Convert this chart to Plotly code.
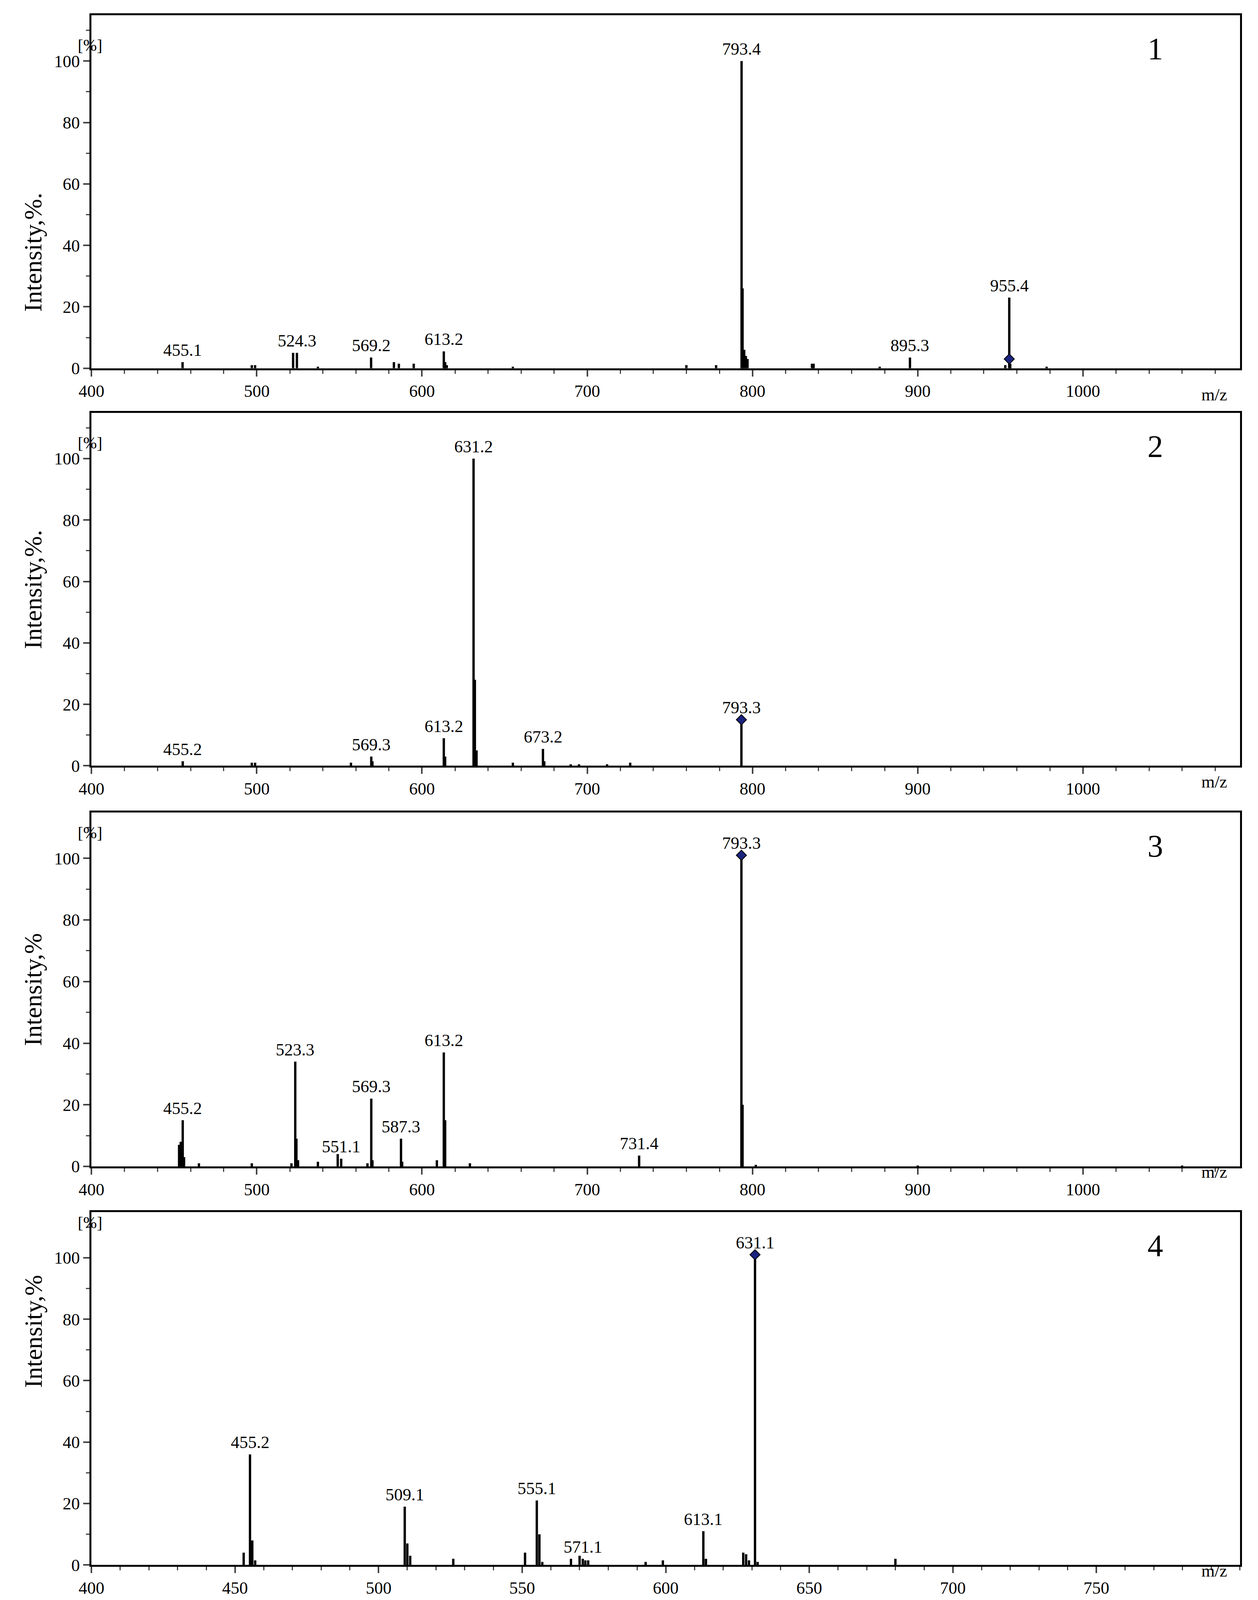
import plotly.graph_objects as go

# ---- data ----
p1_mz = [455.1, 497, 499, 522, 524.3, 537, 569.2, 583, 586, 595, 613.2, 614, 615, 655, 760, 778, 793.4, 794, 795, 796, 797, 836, 837, 877, 895.3, 953, 955.4, 956, 978]
p1_int = [2, 1, 1, 5, 5, 0.5, 3.5, 2, 1.5, 1.5, 5.5, 2, 1, 0.5, 1, 1, 100, 26, 6, 4, 3, 1.5, 1.5, 0.5, 3.5, 1, 23, 1.5, 0.5]
p1_labels = [(455.1, 2), (524.3, 5), (569.2, 3.5), (613.2, 5.5), (793.4, 100), (895.3, 3.5), (955.4, 23)]
p1_prec = (955.4, 3)

p2_mz = [455.2, 497, 499, 557, 569.3, 570, 613.2, 614, 631.2, 632, 633, 655, 673.2, 674, 690, 695, 712, 726, 793.3]
p2_int = [1.5, 1, 1, 1, 3, 1.5, 9, 3, 100, 28, 5, 1, 5.5, 1.5, 0.5, 0.5, 0.5, 1, 15]
p2_labels = [(455.2, 1.5), (569.3, 3), (613.2, 9), (631.2, 100), (673.2, 5.5), (793.3, 15)]
p2_prec = (793.3, 15)

p3_mz = [453, 454, 455.2, 456, 465, 497, 521, 523.3, 524, 525, 537, 549, 551.1, 567, 569.3, 570, 587.3, 588, 609, 613.2, 614, 629, 731.4, 793.3, 794, 802, 900, 1060]
p3_int = [7, 8, 15, 3, 1, 1, 1, 34, 9, 2, 1.5, 4, 2.5, 1, 22, 2, 9, 1.5, 2, 37, 15, 1, 3.5, 101, 20, 0.5, 0.3, 0.3]
p3_labels = [(455.2, 15), (523.3, 34), (551.1, 2.5), (569.3, 22), (587.3, 9), (613.2, 37), (731.4, 3.5), (793.3, 101)]
p3_prec = (793.3, 101)

p4_mz = [453, 455.2, 456, 457, 509.1, 510, 511, 526, 551, 555.1, 556, 557, 567, 570, 571.1, 572, 573, 593, 599, 613.1, 614, 627, 628, 629, 631.1, 632, 680]
p4_int = [4, 36, 8, 1.5, 19, 7, 3, 2, 4, 21, 10, 1, 2, 3, 2, 1.5, 1.5, 1, 1.5, 11, 2, 4, 3.5, 1.5, 101, 1, 2]
p4_labels = [(455.2, 36), (509.1, 19), (555.1, 21), (571.1, 2), (613.1, 11), (631.1, 101)]
p4_prec = (631.1, 101)

panels = [
    dict(mz=p1_mz, it=p1_int, lab=p1_labels, prec=p1_prec, xr=[400, 1095], xt=list(range(400, 1001, 100)), minor=20, num="1", ylab="Intensity,%."),
    dict(mz=p2_mz, it=p2_int, lab=p2_labels, prec=p2_prec, xr=[400, 1095], xt=list(range(400, 1001, 100)), minor=20, num="2", ylab="Intensity,%."),
    dict(mz=p3_mz, it=p3_int, lab=p3_labels, prec=p3_prec, xr=[400, 1095], xt=list(range(400, 1001, 100)), minor=20, num="3", ylab="Intensity,%"),
    dict(mz=p4_mz, it=p4_int, lab=p4_labels, prec=p4_prec, xr=[400, 800], xt=list(range(400, 751, 50)), minor=10, num="4", ylab="Intensity,%"),
]
y_ticks = [0, 20, 40, 60, 80, 100]

# ---- layout geometry (paper fractions) ----
H = 1568.0
xdom = [57 / 940, 924 / 940]
tops = [12, 404, 798, 1192]
bots = [360, 752, 1147, 1540]
YMAX = 114.9

FONT = "Liberation Serif"
fig = go.Figure()
layout = dict(autosize=True, margin=dict(l=0, r=0, t=0, b=0),
              paper_bgcolor="white", plot_bgcolor="white", showlegend=False,
              font=dict(family=FONT, color="black", size=44))
ann = []
for i, p in enumerate(panels):
    k = "" if i == 0 else str(i + 1)
    xa, ya = "x" + k, "y" + k
    xs, ys = [], []
    for m, v in zip(p["mz"], p["it"]):
        xs += [m, m, None]
        ys += [0, v, None]
    fig.add_trace(go.Scatter(x=xs, y=ys, mode="lines", line=dict(color="black", width=6),
                             xaxis=xa, yaxis=ya, hoverinfo="skip"))
    fig.add_trace(go.Scatter(x=[p["prec"][0]], y=[p["prec"][1]], mode="markers",
                             marker=dict(symbol="diamond", size=20, color="#1a237e",
                                         line=dict(color="black", width=2)),
                             xaxis=xa, yaxis=ya))
    dom = [1 - bots[i] / H, 1 - tops[i] / H]
    layout["xaxis" + k] = dict(domain=xdom, range=p["xr"], anchor=ya, tickvals=p["xt"],
                               ticks="outside", ticklen=16, tickwidth=4, showline=True,
                               linewidth=5, linecolor="black", mirror=True, showgrid=False,
                               zeroline=False, tickfont=dict(size=44),
                               minor=dict(dtick=p["minor"], ticks="outside", ticklen=9, tickwidth=3))
    layout["yaxis" + k] = dict(domain=dom, range=[0, YMAX], anchor=xa, tickvals=y_ticks,
                               ticks="outside", ticklen=16, tickwidth=4, showline=True,
                               linewidth=5, linecolor="black", mirror=True, showgrid=False,
                               zeroline=False, tickfont=dict(size=44),
                               minor=dict(dtick=10, ticks="outside", ticklen=9, tickwidth=3))
    for (m, v) in p["lab"]:
        ann.append(dict(x=m, y=v, xref=xa, yref=ya, text=f"{m:.1f}", showarrow=False,
                        yanchor="bottom", yshift=4, font=dict(size=44)))
    span = p["xr"][1] - p["xr"][0]
    ann.append(dict(x=p["xr"][0] + span * (803 / 867), y=104, xref=xa, yref=ya, text=p["num"],
                    showarrow=False, font=dict(size=80)))
    ann.append(dict(x=915 / 940, y=1 - (bots[i] + 16) / H, xref="paper", yref="paper", text="m/z",
                    showarrow=False, font=dict(size=44)))
    ann.append(dict(x=46 / 940, y=1 - (tops[i] + 20) / H, xref="paper", yref="paper", text="[%]",
                    showarrow=False, font=dict(size=42)))
    ann.append(dict(x=0.002, xanchor="left", y=1 - (tops[i] + bots[i]) / 2 / H, xref="paper", yref="paper",
                    text=p["ylab"], textangle=-90, showarrow=False, font=dict(size=64)))
layout["annotations"] = ann
fig.update_layout(**layout)
fig.write_html("out.html", default_width="100vw", default_height="100vh",
               config={"responsive": True})
